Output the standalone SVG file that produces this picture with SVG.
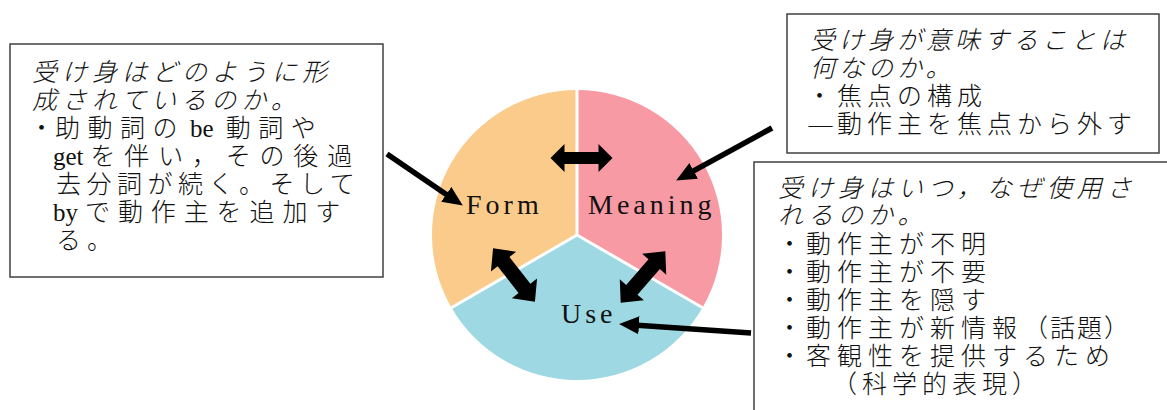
<svg xmlns="http://www.w3.org/2000/svg" xmlns:xlink="http://www.w3.org/1999/xlink" width="1167" height="410" viewBox="0 0 1167 410">
  <style>
    .box { fill: #ffffff; stroke: #404040; stroke-width: 1.5; }
    .jp { font-family: "Noto Sans CJK JP", "Noto Sans CJK SC", sans-serif; font-size: 25px; font-weight: 300; letter-spacing: 6px; fill: #111111; }
    .it { font-style: italic; letter-spacing: 5px; }
    .tight { letter-spacing: 5px; }
    .tight .it { letter-spacing: 4px; }
    .nb { letter-spacing: 0px; }
    .lat { font-family: "Liberation Serif", "Noto Sans CJK JP", serif; font-size: 25px; font-weight: 400; letter-spacing: 0px; }
    .lbl { font-family: "Liberation Serif", "DejaVu Serif", serif; font-size: 28px; letter-spacing: 4px; fill: #111111; }
    .sep { stroke: #ffffff; stroke-width: 3; fill: none; }
    .ptr { stroke: #000000; stroke-width: 5.5; fill: none; marker-end: url(#head); }
    .dbl { fill: #000000; }
  </style>
  <defs>
    <marker id="head" markerUnits="userSpaceOnUse" markerWidth="22" markerHeight="20" refX="9" refY="9" orient="auto">
      <path d="M0,0 L20,9 L0,18 z" fill="#000000"/>
    </marker>
    <!-- two-headed block arrows centred on the origin -->
    <path id="dblArrow" d="M-31,0 L-17,-14 L-17,-6 L17,-6 L17,-14 L31,0 L17,14 L17,6 L-17,6 L-17,14 z"/>
    <path id="dblArrowWide" d="M-34,0 L-17,-16 L-17,-7.5 L17,-7.5 L17,-16 L34,0 L17,16 L17,7.5 L-17,7.5 L-17,16 z"/>
  </defs>

  <rect width="1167" height="410" fill="#ffffff"/>

  <!-- pie: three sectors around (577,235), r=145 -->
  <g id="node-form">
    <path d="M577,235 L577,90 A145,145 0 0 0 451.4,307.5 Z" fill="#FBCB8B"/>
    <text class="lbl" x="466" y="214">Form</text>
  </g>
  <g id="node-meaning">
    <path d="M577,235 L577,90 A145,145 0 0 1 702.6,307.5 Z" fill="#F89AA4"/>
    <text class="lbl" x="588" y="214">Meaning</text>
  </g>
  <g id="node-use">
    <path d="M577,235 L702.6,307.5 A145,145 0 0 1 451.4,307.5 Z" fill="#9ED8E2"/>
    <text class="lbl" x="561" y="323">Use</text>
  </g>
  <g id="dividers">
    <line class="sep" x1="577" y1="235" x2="577" y2="89"/>
    <line class="sep" x1="577" y1="235" x2="450" y2="308.5"/>
    <line class="sep" x1="577" y1="235" x2="704" y2="308.5"/>
  </g>

  <!-- explanation boxes -->
  <g id="box-form">
    <rect class="box" x="10" y="44" width="373" height="233"/>
    <text class="jp">
      <tspan class="it" x="32" y="81">受け身はどのように形</tspan>
      <tspan class="it" x="32" y="109">成されているのか。</tspan>
      <tspan class="nb" x="29" y="137">・</tspan><tspan x="55" y="137" style="letter-spacing:7.5px">助動詞の</tspan><tspan class="lat" dx="5">be</tspan><tspan dx="12" style="letter-spacing:7.5px">動詞や</tspan>
      <tspan class="lat" x="53" y="165">get</tspan><tspan dx="7" style="letter-spacing:8.8px">を伴い，その後過</tspan>
      <tspan x="56" y="193" style="letter-spacing:5.5px">去分詞が続く。そして</tspan>
      <tspan class="lat" x="53" y="221">by</tspan><tspan dx="7" style="letter-spacing:7.9px">で動作主を追加す</tspan>
      <tspan x="56" y="249">る。</tspan>
    </text>
  </g>

  <g id="box-meaning">
    <rect class="box" x="787" y="14" width="372" height="139"/>
    <text class="jp tight">
      <tspan class="it" x="810" y="49">受け身が意味することは</tspan>
      <tspan class="it" x="810" y="77">何なのか。</tspan>
      <tspan class="nb" x="807" y="105">・</tspan><tspan x="837" y="105">焦点の構成</tspan>
      <tspan class="nb" x="807" y="133" textLength="27" lengthAdjust="spacingAndGlyphs">—</tspan><tspan x="837" y="133">動作主を焦点から外す</tspan>
    </text>
  </g>

  <g id="box-use">
    <rect class="box" x="754" y="162" width="430" height="270"/>
    <text class="jp">
      <tspan class="it" x="778" y="197">受け身はいつ，なぜ使用さ</tspan>
      <tspan class="it" x="778" y="224">れるのか。</tspan>
      <tspan class="nb" x="777" y="253">・</tspan><tspan x="806" y="253">動作主が不明</tspan>
      <tspan class="nb" x="777" y="281">・</tspan><tspan x="806" y="281">動作主が不要</tspan>
      <tspan class="nb" x="777" y="309">・</tspan><tspan x="806" y="309">動作主を隠す</tspan>
      <tspan class="nb" x="777" y="337">・</tspan><tspan x="806" y="337">動作主が新情報</tspan><tspan style="letter-spacing:2px">（話題）</tspan>
      <tspan class="nb" x="777" y="365">・</tspan><tspan x="806" y="365">客観性を提供するため</tspan>
      <tspan x="832" y="393" style="letter-spacing:5px">（科学的表現）</tspan>
    </text>
  </g>

  <!-- connectors -->
  <g id="connectors">
    <use xlink:href="#dblArrow" class="dbl" transform="translate(581.5,158)"/>
    <use xlink:href="#dblArrowWide" class="dbl" transform="translate(514,275) rotate(52)"/>
    <use xlink:href="#dblArrowWide" class="dbl" transform="translate(643,277) rotate(131)"/>
    <line class="ptr" x1="387" y1="154" x2="453.7" y2="199.4"/>
    <line class="ptr" x1="772" y1="128" x2="685.8" y2="175.2"/>
    <line class="ptr" x1="751" y1="333" x2="630" y2="324.7"/>
  </g>
</svg>
